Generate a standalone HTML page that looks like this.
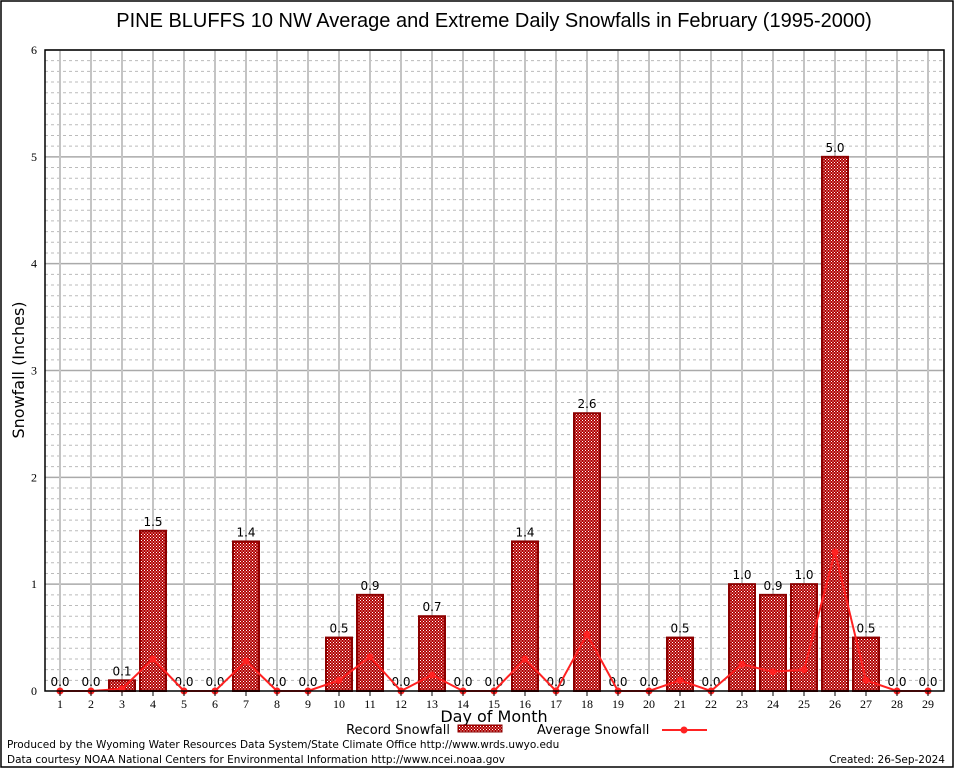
<!DOCTYPE html>
<html><head><meta charset="utf-8"><style>
body{margin:0;background:#fff}
svg{display:block;font-family:"DejaVu Sans","Liberation Sans",sans-serif}
</style></head><body>
<svg id="c" width="954" height="768" viewBox="0 0 954 768">
<defs><pattern id="hatch" width="3" height="3" patternUnits="userSpaceOnUse"><rect width="3" height="3" fill="#b00000"/><rect width="1" height="1" fill="#fff"/><rect x="1.5" y="1.5" width="1" height="1" fill="#fff"/></pattern></defs>
<rect x="1" y="1" width="952" height="766" fill="#fff" stroke="#000" stroke-width="1.5"/>
<text x="494" y="27" font-size="20" text-anchor="middle" font-family="Liberation Sans,sans-serif">PINE BLUFFS 10 NW Average and Extreme Daily Snowfalls in February (1995-2000)</text>
<g id="grid"></g><g id="bars"></g><g id="line"></g><g id="axes"></g>
<text x="24" y="370" font-size="16" text-anchor="middle" transform="rotate(-90 24 370)">Snowfall (Inches)</text>
<text x="494" y="722" font-size="16" text-anchor="middle">Day of Month</text>
<g>
<text x="450" y="734" font-size="13" text-anchor="end">Record Snowfall</text>
<rect x="458" y="725" width="44" height="7" fill="url(#hatch)" stroke="#8b0000"/>
<text x="537" y="734" font-size="13">Average Snowfall</text>
<line x1="662" y1="730" x2="707" y2="730" stroke="#f22" stroke-width="2"/>
<circle cx="684" cy="730" r="3.5" fill="#f22"/>
</g>
<text x="7" y="748" font-size="10.5">Produced by the Wyoming Water Resources Data System/State Climate Office http://www.wrds.uwyo.edu</text>
<text x="7" y="763" font-size="10.5">Data courtesy NOAA National Centers for Environmental Information http://www.ncei.noaa.gov</text>
<text x="945" y="763" font-size="10.5" text-anchor="end">Created: 26-Sep-2024</text>
</svg>
<script>
const days=[1,2,3,4,5,6,7,8,9,10,11,12,13,14,15,16,17,18,19,20,21,22,23,24,25,26,27,28,29];
const recordValues=[0,0,0.1,1.5,0,0,1.4,0,0,0.5,0.9,0,0.7,0,0,1.4,0,2.6,0,0,0.5,0,1.0,0.9,1.0,5.0,0.5,0,0];
const averageValues=[0,0,0.02,0.3,0,0,0.28,0,0,0.1,0.32,0,0.15,0,0,0.3,0,0.53,0,0,0.1,0,0.25,0.18,0.2,1.3,0.1,0,0];
const yTicks=[0,1,2,3,4,5,6];
const NS='http://www.w3.org/2000/svg';
const L=45,R=944,T=50,B=691;
const xs=d=>60+(d-1)*(928-60)/28;
const ys=v=>B-(v/6)*(B-T);
function mk(tag,attrs,parent,txt){const e=document.createElementNS(NS,tag);for(const k in attrs)e.setAttribute(k,attrs[k]);if(txt!==undefined)e.textContent=txt;document.getElementById(parent).appendChild(e);return e;}
for(let i=1;i<60;i++){if(i%10===0)continue;const e=mk('line',{x1:L,x2:R,y1:ys(i/10),y2:ys(i/10),stroke:'#bbb','stroke-dasharray':'3,3','stroke-width':1},'grid');

}
yTicks.forEach(t=>{if(t===0)return;const e=mk('line',{x1:L,x2:R,y1:ys(t),y2:ys(t),stroke:'#aaa','stroke-width':1.5},'grid');

});
days.forEach(d=>{const e=mk('line',{x1:xs(d),x2:xs(d),y1:T,y2:B,stroke:'#c4c4c4','stroke-width':2},'grid');

});
const bw=26;
days.forEach((d,i)=>{const v=recordValues[i];
if(v>0){const r=mk('rect',{x:xs(d)-bw/2,y:ys(v),width:bw,height:B-ys(v),fill:'url(#hatch)',stroke:'#8b0000','stroke-width':2},'bars');

}
const t=mk('text',{x:xs(d),y:ys(v)-5,'font-size':12,'text-anchor':'middle'},'bars',v.toFixed(1));

});
const pl=mk('polyline',{points:days.map((d,i)=>xs(d)+','+ys(averageValues[i])).join(' '),fill:'none',stroke:'#f22','stroke-width':2},'line');


days.forEach((d,i)=>{const c=mk('circle',{cx:xs(d),cy:ys(averageValues[i]),r:3.5,fill:'#f22'},'line');

});
const ax=mk('rect',{x:L,y:T,width:R-L,height:B-T,fill:'none',stroke:'#000','stroke-width':1.5},'axes');


yTicks.forEach(t=>{const e=mk('text',{x:37,y:ys(t)+4,'font-size':12,'text-anchor':'end','font-family':'Liberation Serif,serif'},'axes',t);

});
days.forEach(d=>{mk('line',{x1:xs(d),x2:xs(d),y1:B,y2:B+5,stroke:'#000'},'axes');
const e=mk('text',{x:xs(d),y:B+17,'font-size':12,'text-anchor':'middle','font-family':'Liberation Serif,serif'},'axes',d);

});
</script>
</body></html>
